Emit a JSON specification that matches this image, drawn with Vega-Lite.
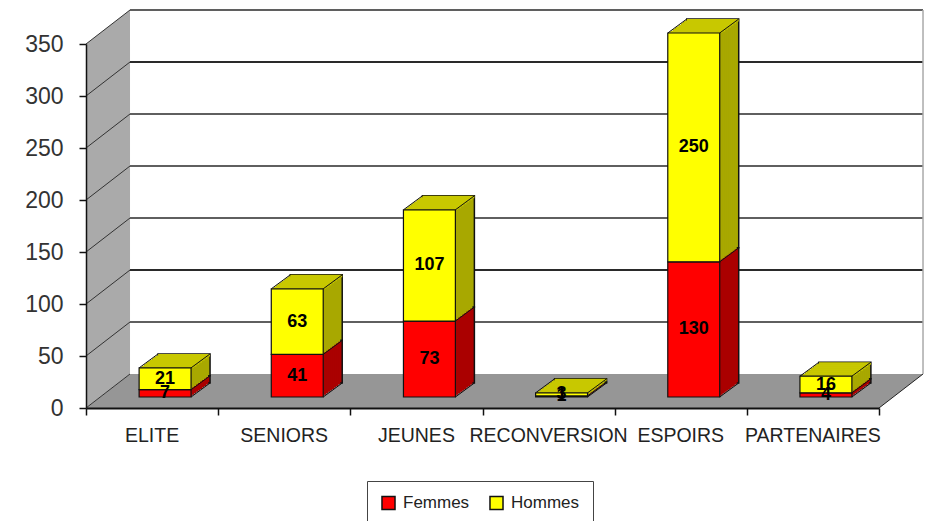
{"$schema":"https://vega.github.io/schema/vega-lite/v6.json","autosize":"none","width":793,"height":364,"padding":{"left":86,"top":44,"right":49,"bottom":113},"background":"white","config":{"view":{"stroke":null},"axis":{"grid":false}},
"datasets":{"grid":[{"v":0},{"v":50},{"v":100},{"v":150},{"v":200},{"v":250},{"v":300},{"v":350}],
"side":[{"x":0,"y0":0,"y1":350},{"x":0.333,"y0":32.69,"y1":382.69}],
"floor":[{"y":0,"x0":0,"x1":6},{"y":32.69,"x0":0.333,"x1":6.333}],
"bars":[{"cat":"ELITE","series":"Femmes","v":7,"label":"7"},{"cat":"ELITE","series":"Hommes","v":21,"label":"21"},{"cat":"SENIORS","series":"Femmes","v":41,"label":"41"},{"cat":"SENIORS","series":"Hommes","v":63,"label":"63"},{"cat":"JEUNES","series":"Femmes","v":73,"label":"73"},{"cat":"JEUNES","series":"Hommes","v":107,"label":"107"},{"cat":"RECONVERSION","series":"Femmes","v":1,"label":"1"},{"cat":"RECONVERSION","series":"Hommes","v":3,"label":"3"},{"cat":"ESPOIRS","series":"Femmes","v":130,"label":"130"},{"cat":"ESPOIRS","series":"Hommes","v":220,"label":"250"},{"cat":"PARTENAIRES","series":"Femmes","v":4,"label":"4"},{"cat":"PARTENAIRES","series":"Hommes","v":16,"label":"16"}]},
"resolve":{"scale":{"x":"independent"},"axis":{"y":"independent"}},
"layer":[
{"layer":[
{"data":{"name":"side"},"mark":{"type":"area","color":"#aaaaaa"},"encoding":{"x":{"field":"x","type":"quantitative","scale":{"domain":[0,6],"nice":false,"zero":false},"axis":{"orient":"bottom","values":[0,1,2,3,4,5,6],"labels":false,"tickSize":7,"tickColor":"#111","tickWidth":1.5,"domainColor":"#111","domainWidth":2,"zindex":1,"title":null}},"y":{"field":"y0","type":"quantitative","scale":{"domain":[0,350],"nice":false},"axis":{"values":[0,50,100,150,200,250,300,350],"orient":"left","tickSize":7,"tickColor":"#111","domainColor":"#111","domainWidth":1.5,"tickWidth":1.5,"labelFont":"Liberation Sans","labelFontSize":23,"labelColor":"#333","labelPadding":16,"zindex":1,"title":null}},"y2":{"field":"y1"}}},
{"data":{"name":"floor"},"mark":{"type":"area","orient":"horizontal","color":"#969696"},"encoding":{"y":{"field":"y","type":"quantitative"},"x":{"field":"x0","type":"quantitative"},"x2":{"field":"x1"}}},
{"data":{"name":"grid"},"transform":[{"filter":"datum.v>0"}],"mark":{"type":"rule","color":"#2a2a2a","xOffset":44,"x2Offset":44,"yOffset":-34},"encoding":{"x":{"datum":0,"type":"quantitative"},"x2":{"datum":6},"y":{"field":"v","type":"quantitative"},"strokeWidth":{"condition":{"test":"datum.v==300||datum.v==100","value":2},"value":1.4}}},
{"data":{"name":"grid"},"mark":{"type":"rule","color":"#333333","y2Offset":-34,"strokeWidth":1},"encoding":{"x":{"datum":0,"type":"quantitative"},"x2":{"datum":0.333},"y":{"field":"v","type":"quantitative"},"y2":{"field":"v"}}},
{"data":{"values":[{"v":0}]},"mark":{"type":"rule","color":"#222222","y2Offset":-34,"strokeWidth":1},"encoding":{"x":{"datum":6,"type":"quantitative"},"x2":{"datum":6.333},"y":{"field":"v","type":"quantitative"},"y2":{"field":"v"}}},
{"data":{"values":[{"v":32.69,"w":382.69}]},"mark":{"type":"rule","color":"#aaaaaa","strokeWidth":1.5},"encoding":{"x":{"datum":6.333,"type":"quantitative"},"y":{"field":"v","type":"quantitative"},"y2":{"field":"w"}}}
]},
{"data":{"name":"bars"},"transform":[{"stack":"v","groupby":["cat"],"sort":[{"field":"series"}],"as":["s0","s1"]},{"calculate":"(datum.s0+datum.s1)/2","as":"mid"}],
"encoding":{"x":{"field":"cat","type":"nominal","scale":{"domain":["ELITE","SENIORS","JEUNES","RECONVERSION","ESPOIRS","PARTENAIRES"],"paddingInner":0.607,"paddingOuter":0.3035},"axis":{"orient":"bottom","ticks":false,"domain":false,"labelAngle":0,"labelFont":"Liberation Sans","labelFontSize":19.5,"labelColor":"#222","labelPadding":18,"labelOverlap":false,"zindex":1,"title":null}},"y":{"field":"s1","type":"quantitative","axis":null},"y2":{"field":"s0"}},
"layer":[
{"mark":{"type":"bar","xOffset":32,"x2Offset":32,"yOffset":-25,"y2Offset":-25,"stroke":"#111","strokeWidth":1.5},"encoding":{"color":{"condition":{"test":"datum.series==='Femmes'","value":"#aa0000"},"value":"#a8a800"}}},
{"mark":{"type":"bar","xOffset":30,"x2Offset":30,"yOffset":-23.5,"y2Offset":-23.5},"encoding":{"color":{"condition":{"test":"datum.series==='Femmes'","value":"#aa0000"},"value":"#a8a800"}}},
{"mark":{"type":"bar","xOffset":28,"x2Offset":28,"yOffset":-22,"y2Offset":-22},"encoding":{"color":{"condition":{"test":"datum.series==='Femmes'","value":"#aa0000"},"value":"#a8a800"}}},
{"mark":{"type":"bar","xOffset":26,"x2Offset":26,"yOffset":-20.6,"y2Offset":-20.6},"encoding":{"color":{"condition":{"test":"datum.series==='Femmes'","value":"#aa0000"},"value":"#a8a800"}}},
{"mark":{"type":"bar","xOffset":24,"x2Offset":24,"yOffset":-19.1,"y2Offset":-19.1},"encoding":{"color":{"condition":{"test":"datum.series==='Femmes'","value":"#aa0000"},"value":"#a8a800"}}},
{"mark":{"type":"bar","xOffset":22,"x2Offset":22,"yOffset":-17.6,"y2Offset":-17.6},"encoding":{"color":{"condition":{"test":"datum.series==='Femmes'","value":"#aa0000"},"value":"#a8a800"}}},
{"mark":{"type":"bar","xOffset":20,"x2Offset":20,"yOffset":-16.2,"y2Offset":-16.2},"encoding":{"color":{"condition":{"test":"datum.series==='Femmes'","value":"#aa0000"},"value":"#a8a800"}}},
{"mark":{"type":"bar","xOffset":18,"x2Offset":18,"yOffset":-14.7,"y2Offset":-14.7},"encoding":{"color":{"condition":{"test":"datum.series==='Femmes'","value":"#aa0000"},"value":"#a8a800"}}},
{"mark":{"type":"bar","xOffset":16,"x2Offset":16,"yOffset":-13.2,"y2Offset":-13.2},"encoding":{"color":{"condition":{"test":"datum.series==='Femmes'","value":"#aa0000"},"value":"#a8a800"}}},
{"mark":{"type":"bar","xOffset":14,"x2Offset":14,"yOffset":-11.7,"y2Offset":-11.7},"encoding":{"color":{"condition":{"test":"datum.series==='Femmes'","value":"#aa0000"},"value":"#a8a800"}}},
{"transform":[{"filter":"datum.series==='Hommes'"}],"mark":{"type":"bar","color":"#c8c800","xOffset":32,"x2Offset":32,"yOffset":-25,"y2Offset":-22.5},"encoding":{"y2":{"field":"s1"}}},
{"transform":[{"filter":"datum.series==='Hommes'"}],"mark":{"type":"bar","color":"#c8c800","xOffset":29.3,"x2Offset":29.3,"yOffset":-23,"y2Offset":-20.5},"encoding":{"y2":{"field":"s1"}}},
{"transform":[{"filter":"datum.series==='Hommes'"}],"mark":{"type":"bar","color":"#c8c800","xOffset":26.6,"x2Offset":26.6,"yOffset":-21,"y2Offset":-18.5},"encoding":{"y2":{"field":"s1"}}},
{"transform":[{"filter":"datum.series==='Hommes'"}],"mark":{"type":"bar","color":"#c8c800","xOffset":23.9,"x2Offset":23.9,"yOffset":-19,"y2Offset":-16.5},"encoding":{"y2":{"field":"s1"}}},
{"transform":[{"filter":"datum.series==='Hommes'"}],"mark":{"type":"bar","color":"#c8c800","xOffset":21.1,"x2Offset":21.1,"yOffset":-17,"y2Offset":-14.5},"encoding":{"y2":{"field":"s1"}}},
{"transform":[{"filter":"datum.series==='Hommes'"}],"mark":{"type":"bar","color":"#c8c800","xOffset":18.4,"x2Offset":18.4,"yOffset":-15,"y2Offset":-12.5},"encoding":{"y2":{"field":"s1"}}},
{"transform":[{"filter":"datum.series==='Hommes'"}],"mark":{"type":"bar","color":"#c8c800","xOffset":15.7,"x2Offset":15.7,"yOffset":-13,"y2Offset":-11},"encoding":{"y2":{"field":"s1"}}},
{"mark":{"type":"rule","color":"#111","strokeWidth":1,"xOffset":13,"x2Offset":58,"yOffset":-11,"y2Offset":-25},"encoding":{"x":{"field":"cat","type":"nominal","bandPosition":1},"x2":{"field":"cat"},"y":{"field":"s1","type":"quantitative"},"y2":{"field":"s1"}}},
{"transform":[{"filter":"datum.series==='Hommes'"}],"mark":{"type":"rule","color":"#111","strokeWidth":1,"xOffset":13,"x2Offset":6,"yOffset":-11,"y2Offset":-25},"encoding":{"x":{"field":"cat","type":"nominal","bandPosition":0},"x2":{"field":"cat"},"y":{"field":"s1","type":"quantitative"},"y2":{"field":"s1"}}},
{"transform":[{"filter":"datum.series==='Femmes'"}],"mark":{"type":"rule","color":"#111","strokeWidth":1,"xOffset":13,"x2Offset":58,"yOffset":-11,"y2Offset":-25},"encoding":{"x":{"field":"cat","type":"nominal","bandPosition":1},"x2":{"field":"cat"},"y":{"field":"s0","type":"quantitative"},"y2":{"field":"s0"}}},
{"mark":{"type":"bar","xOffset":13,"x2Offset":13,"yOffset":-11,"y2Offset":-11,"stroke":"#111","strokeWidth":1.2},"encoding":{"color":{"field":"series","type":"nominal","scale":{"domain":["Femmes","Hommes"],"range":["#ff0000","#ffff00"]},"legend":{"title":null,"orient":"none","legendX":281,"legendY":437,"direction":"horizontal","columns":2,"strokeColor":"#444","padding":13,"symbolType":"square","symbolSize":170,"symbolStrokeColor":"#111","symbolStrokeWidth":1.5,"symbolOpacity":1,"labelFont":"Liberation Sans","labelFontSize":17,"labelColor":"#222","columnPadding":16,"labelOffset":6}}}},
{"mark":{"type":"text","font":"Liberation Sans","fontWeight":"bold","fontSize":18,"color":"#000","xOffset":13,"yOffset":-11,"baseline":"middle","align":"center"},"encoding":{"y":{"field":"mid","type":"quantitative","axis":null},"text":{"field":"label","type":"nominal"}}}
]}
]}
